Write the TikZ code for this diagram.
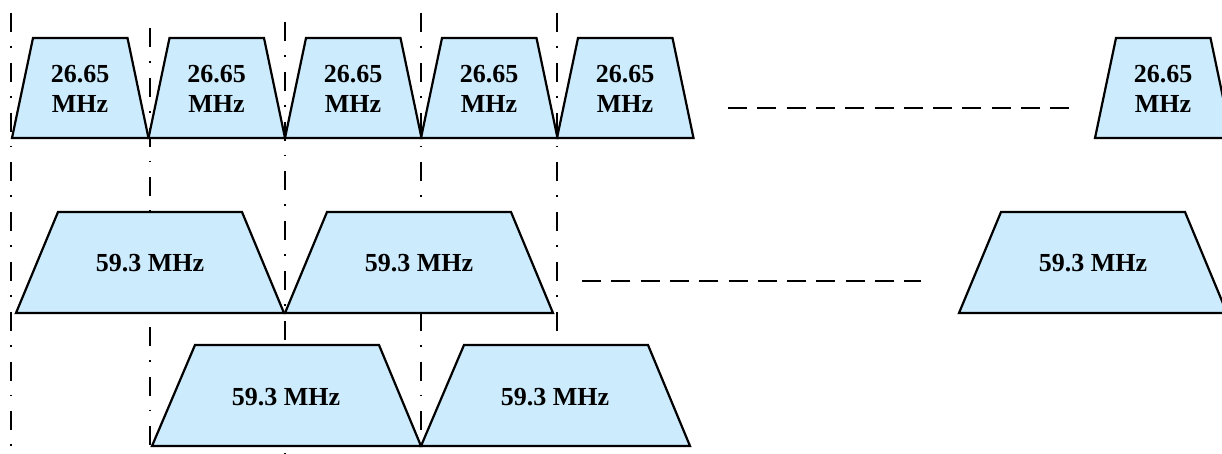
\documentclass[tikz,border=0pt]{standalone}
\usepackage{fontspec}
\setmainfont{Liberation Serif}
\definecolor{bandblue}{RGB}{204,235,253}
\begin{document}
\begin{tikzpicture}[x=1pt,y=-1pt,
  band/.style={draw=black, line width=2.2pt, fill=bandblue, line join=miter},
  gridline/.style={line width=2pt, dash pattern=on 19pt off 14pt on 1.8pt off 15pt},
  gapline/.style={line width=2.4pt, dash pattern=on 19pt off 10.3pt},
  lbl/.style={font=\fontsize{26}{30}\selectfont\bfseries, align=center, inner sep=0pt}]
\useasboundingbox (0,0) rectangle (1222,454);
% channel grid (dash-dot)
\coordinate (g1a) at (11,13);  \coordinate (g1b) at (11,454);
\coordinate (g2a) at (150,28); \coordinate (g2b) at (150,454);
\coordinate (g3a) at (285,22); \coordinate (g3b) at (285,454);
\coordinate (g4a) at (421,13); \coordinate (g4b) at (421,454);
\coordinate (g5a) at (557,13); \coordinate (g5b) at (557,345);
\foreach \k in {1,...,5} \draw[gridline] (g\k a) -- (g\k b);
% top row: 26.65 MHz
\foreach \x [count=\i] in {12,148.5,285,421,557,1095} {
  \filldraw[band] (\x,138) -- (\x+21,38) -- (\x+115.5,38) -- (\x+136.5,138) -- cycle;
  \node[lbl] (s\i) at (\x+68,89) {26.65\\MHz};
}
% middle row: 59.3 MHz
\foreach \x [count=\i] in {16,285,959} {
  \filldraw[band] (\x,313) -- (\x+42,212) -- (\x+226,212) -- (\x+268,313) -- cycle;
  \node[lbl] (m\i) at (\x+134,263) {59.3 MHz};
}
% bottom row: 59.3 MHz
\foreach \x [count=\i] in {152,421} {
  \filldraw[band] (\x,446) -- (\x+43,345) -- (\x+227,345) -- (\x+269,446) -- cycle;
  \node[lbl] (b\i) at (\x+134,397) {59.3 MHz};
}
% ellipsis dashes
\coordinate (d1a) at (728,108); \coordinate (d1b) at (1069,108);
\coordinate (d2a) at (582,281); \coordinate (d2b) at (921,281);
\draw[gapline] (d1a) -- (d1b);
\draw[gapline] (d2a) -- (d2b);
\end{tikzpicture}
\end{document}
